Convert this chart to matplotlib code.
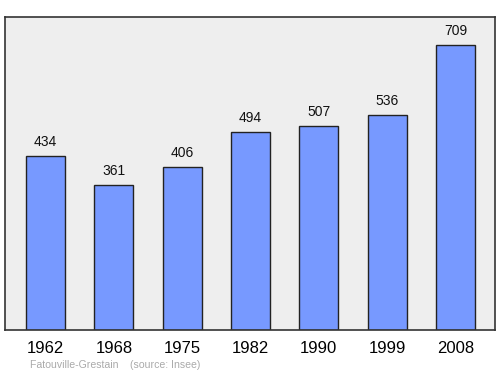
import matplotlib
matplotlib.use("Agg")
import matplotlib.pyplot as plt

plt.rcParams["font.family"] = ["Liberation Sans", "DejaVu Sans"]

years = ["1962", "1968", "1975", "1982", "1990", "1999", "2008"]
population = [434, 361, 406, 494, 507, 536, 709]
footer = "Fatouville-Grestain    (source: Insee)"

fig = plt.figure(figsize=(5.0, 3.74), dpi=100)
ax = fig.add_axes([0.01, 0.1176, 0.98, 0.837])
ax.set_facecolor("#eeeeee")

x = range(len(years))
ax.bar(x, population, width=0.57, color="#7799ff", edgecolor="#222222", linewidth=1.0)
for xi, v in zip(x, population):
    ax.annotate(str(v), (xi, v), xytext=(0, 5), textcoords="offset points",
                ha="center", va="bottom", fontsize=10, color="#111111")

ax.set_xlim(-0.593, 6.578)
ax.set_ylim(0, 779)
ax.set_yticks([])
ax.set_xticks(list(x))
ax.set_xticklabels(years, fontsize=12)
ax.tick_params(axis="x", length=0, pad=8)
for s in ax.spines.values():
    s.set_color("#333333")
    s.set_linewidth(1.2)

fig.text(0.06, 0.012, footer, fontsize=7.6, color="#aaaaaa", ha="left", va="bottom")

fig.savefig("out.png", dpi=100)
